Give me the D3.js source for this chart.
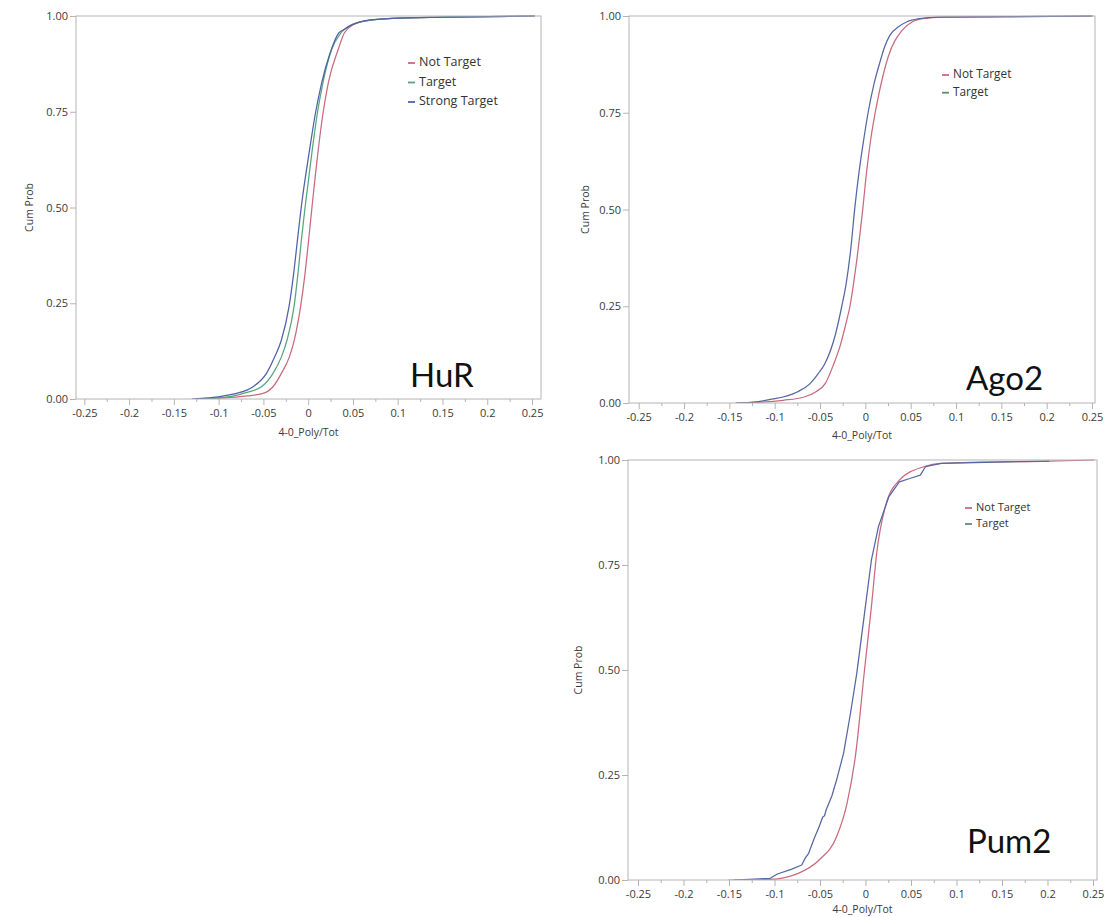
<!DOCTYPE html>
<html>
<head>
<meta charset="utf-8">
<script src="https://cdn.jsdelivr.net/npm/d3@7"></script>
<style>
  body { margin: 0; background: #ffffff; }
  svg { display: block; }
</style>
</head>
<body>
<svg id="chart" width="1109" height="917"></svg>
<script>
// ---- tick values and labels ----
const xTickValues = [-0.25, -0.2, -0.15, -0.1, -0.05, 0, 0.05, 0.1, 0.15, 0.2, 0.25];
const xTickLabels = ["-0.25", "-0.2", "-0.15", "-0.1", "-0.05", "0", "0.05", "0.1", "0.15", "0.2", "0.25"];
const xMinorTicks = [-0.225, -0.175, -0.125, -0.075, -0.025, 0.025, 0.075, 0.125, 0.175, 0.225];
const yTickValues = [0, 0.25, 0.5, 0.75, 1];
const yTickLabels = ["0.00", "0.25", "0.50", "0.75", "1.00"];
const xAxisTitle = "4-0_Poly/Tot";
const yAxisTitle = "Cum Prob";

// ---- cumulative distributions: [value, cumulative probability] ----
const hurNotTarget = [
  [-0.125, 0], [-0.10, 0.002], [-0.0764, 0.006], [-0.0504, 0.0148], [-0.0393, 0.032],
  [-0.0299, 0.067], [-0.021, 0.11], [-0.0155, 0.154], [-0.0085, 0.241], [-0.0035, 0.328],
  [0.0005, 0.415], [0.0042, 0.5], [0.0078, 0.58], [0.0112, 0.65], [0.0168, 0.75],
  [0.0224, 0.825], [0.0336, 0.913], [0.0402, 0.955], [0.0503, 0.977], [0.0662, 0.988],
  [0.094, 0.994], [0.153, 0.997], [0.253, 1]
];
const hurTarget = [
  [-0.125, 0], [-0.105, 0.002], [-0.0875, 0.006], [-0.0727, 0.0148], [-0.0522, 0.032],
  [-0.0393, 0.067], [-0.0299, 0.11], [-0.0236, 0.154], [-0.0158, 0.241], [-0.0114, 0.328],
  [-0.0076, 0.415], [-0.0035, 0.5], [0.0045, 0.65], [0.0105, 0.75], [0.0164, 0.825],
  [0.0263, 0.913], [0.0363, 0.955], [0.0483, 0.977], [0.066, 0.988], [0.094, 0.994],
  [0.153, 0.997], [0.253, 1]
];
const hurStrongTarget = [
  [-0.13, 0], [-0.112, 0.003], [-0.0987, 0.006], [-0.088, 0.011], [-0.08, 0.0148],
  [-0.0616, 0.032], [-0.0466, 0.067], [-0.0374, 0.11], [-0.0299, 0.154], [-0.0214, 0.241],
  [-0.0162, 0.328], [-0.012, 0.415], [-0.0078, 0.5], [0.0015, 0.65], [0.0084, 0.75],
  [0.015, 0.825], [0.024, 0.9], [0.034, 0.955], [0.04, 0.965], [0.05, 0.978],
  [0.064, 0.988], [0.094, 0.994], [0.153, 0.997], [0.253, 1]
];

const ago2NotTarget = [
  [-0.143, 0], [-0.115, 0.002], [-0.0906, 0.007], [-0.0675, 0.0155], [-0.054, 0.03],
  [-0.0443, 0.05], [-0.035, 0.1], [-0.0275, 0.15], [-0.022, 0.2], [-0.017, 0.25],
  [-0.0105, 0.351], [-0.0027, 0.505], [0.0015, 0.6], [0.0058, 0.679], [0.0135, 0.782],
  [0.0251, 0.894], [0.0405, 0.963], [0.052, 0.985], [0.0636, 0.993], [0.085, 0.997],
  [0.2506, 1]
];
const ago2Target = [
  [-0.143, 0], [-0.12, 0.003], [-0.106, 0.0086], [-0.0752, 0.0284], [-0.061, 0.05],
  [-0.052, 0.0758], [-0.045, 0.1], [-0.0328, 0.179], [-0.026, 0.25], [-0.0212, 0.308],
  [-0.016, 0.4], [-0.0116, 0.505], [-0.0068, 0.6], [-0.0019, 0.679], [0.003, 0.75],
  [0.0096, 0.825], [0.016, 0.88], [0.0212, 0.92], [0.027, 0.95], [0.0366, 0.972],
  [0.046, 0.985], [0.0598, 0.993], [0.08, 0.997], [0.2506, 1]
];

const pum2NotTarget = [
  [-0.1506, 0], [-0.1046, 0.0016], [-0.0739, 0.0159], [-0.051, 0.0476], [-0.0318, 0.103],
  [-0.0203, 0.1825], [-0.0107, 0.3016], [-0.0011, 0.5], [0.0065, 0.651], [0.0123, 0.778],
  [0.0218, 0.889], [0.0372, 0.952], [0.064, 0.984], [0.0831, 0.992], [0.2019, 0.9976],
  [0.2517, 1]
];
const pum2Target = [
  [-0.145, 0], [-0.1046, 0.004], [-0.0969, 0.0143], [-0.0816, 0.0254], [-0.0701, 0.0357],
  [-0.0662, 0.052], [-0.0625, 0.0635], [-0.0565, 0.098], [-0.051, 0.127], [-0.047, 0.15],
  [-0.045, 0.153], [-0.0433, 0.1667], [-0.037, 0.2], [-0.0318, 0.238], [-0.0241, 0.3016],
  [-0.0165, 0.397], [-0.0096, 0.492], [-0.0011, 0.635], [0.0065, 0.762], [0.0142, 0.841],
  [0.0257, 0.913], [0.0372, 0.948], [0.0487, 0.956], [0.0602, 0.964], [0.0659, 0.984],
  [0.0831, 0.992], [0.2019, 0.9976]
];

// ---- series styling ----
const colors = {
  notTarget: "#c96a7c",
  target: "#57a47f",
  strongTarget: "#4e62a6",
  targetBlue: "#5567a3",
  targetKey: "#5e8c76"
};

const panels = [
  {
    title: "HuR",
    box: { left: 76, right: 541, top: 16, bottom: 399 },
    xDomain: [-0.2593, 0.26],
    series: [
      { name: "Not Target", data: hurNotTarget, color: colors.notTarget, key: colors.notTarget },
      { name: "Target", data: hurTarget, color: colors.target, key: colors.target },
      { name: "Strong Target", data: hurStrongTarget, color: colors.strongTarget, key: colors.strongTarget }
    ],
    legend: { x: 408, y: 63, dy: 19.5, size: 12.5 },
    label: { x: 410, y: 387 },
    xTitleDy: 34, yTitleDx: 46
  },
  {
    title: "Ago2",
    box: { left: 629, right: 1095, top: 16, bottom: 403 },
    xDomain: [-0.2607, 0.2533],
    series: [
      { name: "Not Target", data: ago2NotTarget, color: colors.notTarget, key: colors.notTarget },
      { name: "Target", data: ago2Target, color: colors.targetBlue, key: colors.targetKey }
    ],
    legend: { x: 942, y: 75, dy: 17.7, size: 11.8 },
    label: { x: 966, y: 390 },
    xTitleDy: 33, yTitleDx: 43
  },
  {
    title: "Pum2",
    box: { left: 628, right: 1097, top: 460, bottom: 880 },
    xDomain: [-0.261, 0.2544],
    series: [
      { name: "Not Target", data: pum2NotTarget, color: colors.notTarget, key: colors.notTarget },
      { name: "Target", data: pum2Target, color: colors.targetBlue, key: colors.targetKey, linear: true }
    ],
    legend: { x: 965, y: 508, dy: 16, size: 11 },
    label: { x: 967, y: 853 },
    xTitleDy: 30, yTitleDx: 49
  }
];

const svg = d3.select("#chart");
const tickFont = "'Open Sans', 'Noto Sans', sans-serif";
const textColor = "#3a3a3a";
const frameColor = "#b4b4b4";

panels.forEach(p => {
  const b = p.box;
  const x = d3.scaleLinear().domain(p.xDomain).range([b.left, b.right]);
  const y = d3.scaleLinear().domain([0, 1]).range([b.bottom, b.top]);
  const g = svg.append("g");

  // x axis: labelled major ticks every 0.05, minor ticks in between
  const xAxis = d3.axisBottom(x)
    .tickValues(xTickValues)
    .tickFormat((d, i) => xTickLabels[i])
    .tickSize(6)
    .tickPadding(4);
  const gx = g.append("g")
    .attr("transform", `translate(0,${b.bottom})`)
    .call(xAxis);
  gx.select(".domain").remove();
  gx.selectAll(".tick line").attr("stroke", frameColor);
  gx.selectAll(".tick text")
    .attr("fill", textColor)
    .style("font-family", tickFont)
    .style("font-size", "11px");

  const gxm = g.append("g")
    .attr("transform", `translate(0,${b.bottom})`)
    .call(d3.axisBottom(x).tickValues(xMinorTicks).tickSize(3).tickFormat(""));
  gxm.select(".domain").remove();
  gxm.selectAll(".tick line").attr("stroke", frameColor);

  // y axis
  const yAxis = d3.axisLeft(y)
    .tickValues(yTickValues)
    .tickFormat((d, i) => yTickLabels[i])
    .tickSize(6)
    .tickPadding(2);
  const gy = g.append("g")
    .attr("transform", `translate(${b.left},0)`)
    .call(yAxis);
  gy.select(".domain").remove();
  gy.selectAll(".tick line").attr("stroke", frameColor);
  gy.selectAll(".tick text")
    .attr("fill", textColor)
    .style("font-family", tickFont)
    .style("font-size", "11px");

  // axis titles
  g.append("text")
    .attr("x", (b.left + b.right) / 2)
    .attr("y", b.bottom + p.xTitleDy)
    .attr("text-anchor", "middle")
    .attr("dominant-baseline", "middle")
    .attr("fill", textColor)
    .style("font-family", tickFont)
    .style("font-size", "10.5px")
    .text(xAxisTitle);

  g.append("text")
    .attr("transform", `translate(${b.left - p.yTitleDx},${(b.top + b.bottom) / 2}) rotate(-90)`)
    .attr("text-anchor", "middle")
    .attr("dominant-baseline", "middle")
    .attr("fill", textColor)
    .style("font-family", tickFont)
    .style("font-size", "10.5px")
    .text(yAxisTitle);

  // cumulative probability curves
  const clipId = "clip-" + p.title;
  svg.append("clipPath").attr("id", clipId)
    .append("rect")
    .attr("x", b.left).attr("y", b.top - 2)
    .attr("width", b.right - b.left).attr("height", b.bottom - b.top + 2);

  const curves = g.append("g").attr("clip-path", `url(#${clipId})`);
  p.series.forEach(s => {
    const line = d3.line()
      .x(d => x(d[0]))
      .y(d => y(d[1]))
      .curve(s.linear ? d3.curveLinear : d3.curveMonotoneX);
    curves.append("path")
      .datum(s.data)
      .attr("fill", "none")
      .attr("stroke", s.color)
      .attr("stroke-width", 1.25)
      .attr("stroke-linejoin", "round")
      .attr("d", line);
  });

  // plot frame
  g.append("rect")
    .attr("x", b.left).attr("y", b.top)
    .attr("width", b.right - b.left).attr("height", b.bottom - b.top)
    .attr("fill", "none")
    .attr("stroke", frameColor)
    .attr("stroke-width", 1);

  // legend
  const lg = g.append("g");
  p.series.forEach((s, i) => {
    const ly = p.legend.y + i * p.legend.dy;
    lg.append("line")
      .attr("x1", p.legend.x).attr("x2", p.legend.x + 7)
      .attr("y1", ly).attr("y2", ly)
      .attr("stroke", s.key)
      .attr("stroke-width", 1.8);
    lg.append("text")
      .attr("x", p.legend.x + 11)
      .attr("y", ly)
      .attr("dominant-baseline", "middle")
      .attr("fill", "#333")
      .style("font-family", tickFont)
      .style("font-size", p.legend.size + "px")
      .text(s.name);
  });

  // panel label
  g.append("text")
    .attr("x", p.label.x)
    .attr("y", p.label.y)
    .attr("fill", "#111")
    .style("font-family", "Lato, 'Open Sans', sans-serif")
    .style("font-size", "33px")
    .text(p.title);
});
</script>
</body>
</html>
